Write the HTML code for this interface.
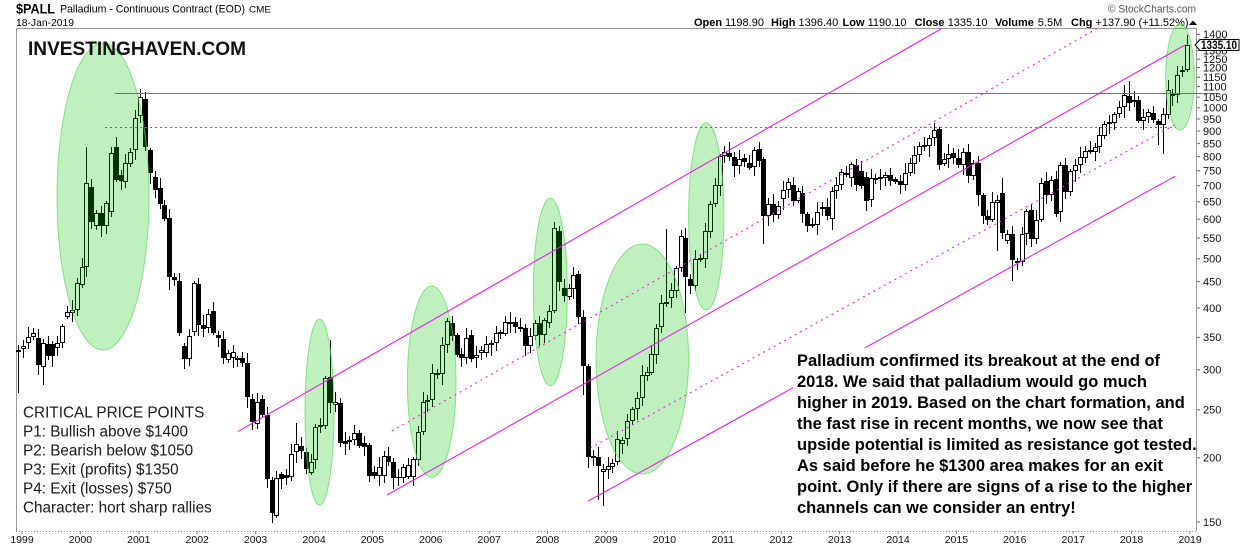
<!DOCTYPE html>
<html><head><meta charset="utf-8"><style>
html,body{margin:0;padding:0;background:#fff;}
svg{display:block;font-family:"Liberation Sans",Arial,sans-serif;}
</style></head><body>
<svg id="c" width="1240" height="546" viewBox="0 0 1240 546" xmlns="http://www.w3.org/2000/svg">
<rect width="1240" height="546" fill="#fff"/>
<!-- header -->
<text x="16" y="13.5" font-size="14" font-weight="bold" textLength="39" lengthAdjust="spacingAndGlyphs">$PALL</text>
<text x="60" y="12.7" font-size="11" textLength="185" lengthAdjust="spacingAndGlyphs">Palladium - Continuous Contract (EOD)</text>
<text x="249" y="12.7" font-size="9" textLength="22" lengthAdjust="spacingAndGlyphs">CME</text>
<text x="16" y="26" font-size="10" textLength="58" lengthAdjust="spacingAndGlyphs">18-Jan-2019</text>
<text x="1108" y="12.5" font-size="11" fill="#555" textLength="88" lengthAdjust="spacingAndGlyphs">© StockCharts.com</text>
<g font-size="11">
<text x="694" y="26" font-weight="bold">Open</text><text x="725" y="26">1198.90</text>
<text x="771" y="26" font-weight="bold">High</text><text x="798.5" y="26">1396.40</text>
<text x="842.5" y="26" font-weight="bold">Low</text><text x="867.6" y="26">1190.10</text>
<text x="914.6" y="26" font-weight="bold">Close</text><text x="947.7" y="26">1335.10</text>
<text x="995" y="26" font-weight="bold">Volume</text><text x="1037.8" y="26">5.5M</text>
<text x="1071" y="26" font-weight="bold">Chg</text><text x="1095.5" y="26" textLength="93" lengthAdjust="spacingAndGlyphs">+137.90 (+11.52%)</text>
</g>
<polygon points="1189,25 1197,25 1193,20.5" fill="#000"/>

<!-- plot frame -->
<line x1="16" y1="28.5" x2="1197" y2="28.5" stroke="#999" stroke-width="1"/>
<line x1="16.5" y1="28" x2="16.5" y2="531" stroke="#999" stroke-width="1"/>
<line x1="1196.5" y1="28" x2="1196.5" y2="531" stroke="#999" stroke-width="1"/>
<line x1="16" y1="531.5" x2="1197" y2="531.5" stroke="#888" stroke-width="1" stroke-dasharray="1,2"/>

<g id="candles" stroke="#000" stroke-width="1" shape-rendering="crispEdges"></g>

<!-- ellipses -->
<g fill="#00c800" fill-opacity="0.25" stroke="#5fd65f" stroke-opacity="0.7" stroke-width="1">
<ellipse cx="103" cy="196.5" rx="46" ry="153.5"/>
<ellipse cx="319.5" cy="412" rx="14.5" ry="93"/>
<ellipse cx="431.7" cy="381.7" rx="24.3" ry="95.7"/>
<ellipse cx="550.3" cy="292" rx="17" ry="93.7"/>
<ellipse cx="642.3" cy="359" rx="46.3" ry="115"/>
<ellipse cx="706.3" cy="216.3" rx="17.7" ry="93.7"/>
<ellipse cx="1180" cy="77" rx="14.3" ry="53"/>
</g>

<!-- lines -->
<g stroke="#e61ee6" stroke-width="1.1" fill="none">
<line x1="115" y1="93.5" x2="1218" y2="93.5"/>
<line x1="105" y1="127.5" x2="1176" y2="127.5" stroke-dasharray="2,3"/>
<line x1="237.7" y1="431.7" x2="941.7" y2="28.5"/>
<line x1="387" y1="495" x2="1185" y2="45"/>
<line x1="588.3" y1="501" x2="1175" y2="176.3"/>
<line x1="392" y1="431" x2="1097" y2="28.5" stroke-dasharray="2,4"/>
<line x1="590" y1="448.3" x2="1175" y2="124.7" stroke-dasharray="2,4"/>
</g>

<!-- y axis -->
<g id="yaxis" font-size="11" fill="#111"></g>

<!-- price label -->
<polygon points="1195,45 1200,39.5 1239,39.5 1239,50.5 1200,50.5" fill="#fff" stroke="#000" stroke-width="1"/>
<text x="1201" y="49" font-size="11.5" font-weight="bold" textLength="36" lengthAdjust="spacingAndGlyphs">1335.10</text>

<!-- x axis -->
<g id="xaxis" font-size="10.5" fill="#111" text-anchor="middle"></g>

<!-- watermark -->
<text x="28" y="55" font-size="19" font-weight="bold" fill="#111" textLength="218" lengthAdjust="spacingAndGlyphs">INVESTINGHAVEN.COM</text>

<!-- left text -->
<g font-size="15.3" fill="#1a1a1a">
<text x="23" y="417.3">CRITICAL PRICE POINTS</text>
<text x="23" y="436.3">P1: Bullish above $1400</text>
<text x="23" y="455.3">P2: Bearish below $1050</text>
<text x="23" y="474.3">P3: Exit (profits) $1350</text>
<text x="23" y="493.3">P4: Exit (losses) $750</text>
<text x="23" y="512.3">Character: hort sharp rallies</text>
</g>

<!-- right text -->
<rect x="793" y="348" width="373" height="172" fill="#fff"/>
<g font-size="16.5" font-weight="bold" fill="#000">
<text x="797" y="366">Palladium confirmed its breakout at the end of</text>
<text x="797" y="387">2018. We said that palladium would go much</text>
<text x="797" y="408">higher in 2019. Based on the chart formation, and</text>
<text x="797" y="429">the fast rise in recent months, we now see that</text>
<text x="797" y="450">upside potential is limited as resistance got tested.</text>
<text x="797" y="471">As said before he $1300 area makes for an exit</text>
<text x="797" y="492">point. Only if there are signs of a rise to the higher</text>
<text x="797" y="513">channels can we consider an entry!</text>
</g>
</svg>
<script>
(function(){
var D=[
[350,352,0],[346,349,0],[337,343,0],[333,337,0],[338,365,1],[343,367,0],[344,356,1],[344,356,1],[343,348,0],[326,343,0],
[312,317,0],[310,313,0],[283,310,0],[267,285,0],[183,267,0],[187,222,1],[213,226,0],[213,226,1],[203,226,0],[153,212,0],
[147,180,1],[175,181,1],[163,182,0],[152,164,0],[118,150,0],[97,116,0],[99,147,1],[150,173,1],[177,190,1],[188,204,1],
[205,219,1],[218,277,1],[277,280,1],[281,333,1],[346,359,1],[336,359,0],[283,332,0],[284,325,1],[325,329,1],[314,328,0],
[311,333,1],[335,338,1],[339,358,1],[353,360,0],[352,358,0],[358,360,1],[358,363,1],[363,397,1],[399,422,1],[402,424,0],
[399,415,1],[415,479,1],[480,513,1],[478,516,0],[474,479,1],[475,478,1],[454,477,0],[444,452,0],[446,451,1],[452,469,1],
[462,473,0],[427,460,0],[425,427,0],[378,426,0],[377,403,1],[402,405,0],[403,443,1],[441,444,1],[440,442,0],[433,440,0],
[433,446,1],[443,447,1],[445,476,1],[472,476,1],[467,476,0],[456,476,0],[456,462,1],[462,478,1],[477,478,1],[467,478,0],
[465,477,0],[459,477,0],[432,460,0],[402,432,0],[400,402,1],[373,400,0],[373,375,1],[345,374,0],[321,345,0],[323,336,1],
[335,355,1],[354,358,1],[338,358,0],[335,359,1],[355,358,0],[350,353,0],[344,353,0],[343,345,0],[333,343,0],[332,334,0],
[322,334,0],[322,324,0],[322,327,1],[327,329,1],[328,346,1],[336,346,0],[323,336,0],[323,335,1],[320,335,0],[311,323,0],
[228,311,0],[231,282,1],[288,296,1],[288,297,0],[275,289,0],[274,317,1],[317,366,1],[366,457,1],[456,458,1],[457,466,1],
[469,472,0],[466,470,0],[463,467,0],[439,462,0],[440,444,0],[421,439,0],[409,421,0],[398,409,0],[375,398,0],[372,376,0],
[354,373,0],[328,355,0],[303,327,0],[302,304,1],[290,298,0],[268,291,0],[236,268,0],[238,277,1],[279,286,1],[259,286,0],
[258,260,0],[231,259,0],[204,232,0],[185,204,0],[156,186,0],[152,156,0],[153,157,1],[157,166,1],[159,166,0],[158,162,1],
[163,168,1],[150,167,0],[149,161,1],[159,216,1],[204,216,0],[204,215,1],[206,215,0],[190,199,0],[182,190,0],[185,201,1],
[191,201,0],[193,214,1],[214,226,1],[224,225,0],[212,225,0],[207,209,0],[207,216,1],[191,219,0],[185,191,0],[172,185,0],
[173,175,1],[164,178,0],[165,185,1],[171,186,1],[177,201,1],[178,200,0],[178,180,1],[177,179,0],[175,178,0],[175,181,1],
[179,182,1],[181,185,1],[173,185,0],[163,173,0],[155,164,0],[146,155,0],[145,147,0],[138,146,0],[130,138,0],[129,165,1],
[159,164,0],[154,159,0],[153,158,1],[158,165,1],[152,165,0],[152,176,1],[163,176,0],[163,195,1],[195,216,1],[216,220,1],
[202,220,0],[200,203,0],[193,233,1],[234,241,0],[234,260,1],[261,263,0],[234,262,0],[211,234,0],[210,239,1],[220,239,0],
[183,220,0],[181,195,1],[180,195,0],[179,214,1],[165,212,0],[165,192,1],[171,192,0],[165,171,0],[157,165,0],[151,158,0],
[150,152,1],[147,152,0],[135,147,0],[124,136,0],[122,124,0],[114,123,0],[107,114,0],[95,107,0],[96,103,1],[100,102,0],
[100,121,1],[117,121,0],[112,117,0],[113,120,1],[121,125,1],[114,125,0],[90,115,0],[94,95,0],[75,95,0],[70,72,0],
[45,70,0]];
var H={0:345,14:147,25:89,26:92,57:423,64:340,110:222,133:229,146:142,202:178,228:81,240:35};
var L={0:393,5:385,31:290,52:523,53:518,116:395,119:500,120:506,137:313,153:244,201:251,204:281,234:145,235:154};
var s='';
for(var i=0;i<D.length;i++){
  var d=D[i],t=d[0],b=d[1],f=d[2];
  var ci=Math.round(18.3+i*4.87), cx=ci+0.5;
  var hi=(H[i]!==undefined)?H[i]:t-(2+((i*13)%9));
  var lo=(L[i]!==undefined)?L[i]:b+(2+((i*17)%10));
  s+='<line x1="'+cx+'" y1="'+hi+'" x2="'+cx+'" y2="'+lo+'"/>';
  var h=Math.max(b-t,1);
  if(f){s+='<rect x="'+(ci-2)+'" y="'+t+'" width="5" height="'+h+'" fill="#000" stroke="none"/>';}
  else{s+='<rect x="'+(ci-1.5)+'" y="'+(t+0.5)+'" width="4" height="'+Math.max(h-1,1)+'" fill="#fff" stroke="#000"/>';}
}
document.getElementById('candles').innerHTML=s;
var Y=[[1400,34.4],[1350,42.3],[1300,50.6],[1250,59.1],[1200,67.5],[1150,77.3],[1100,86.5],[1050,97.1],[1000,107.8],[950,119],[900,131],[850,143.6],[800,156.6],[750,170.7],[700,185.7],[650,201.8],[600,219.2],[550,238],[500,258.8],[450,281.6],[400,308],[350,337.4],[300,369.8],[250,409.8],[200,457.8],[150,522]];
var a='';
for(var j=0;j<Y.length;j++){
  a+='<line x1="1197" y1="'+Y[j][1]+'" x2="1200" y2="'+Y[j][1]+'" stroke="#666" stroke-width="1"/>';
  a+='<text x="1203" y="'+(Y[j][1]+3.8)+'">'+Y[j][0]+'</text>';
}
document.getElementById('yaxis').innerHTML=a;
var xa='';
for(var yr=1999;yr<=2019;yr++){
  var x=22+58.4*(yr-1999);
  xa+='<line x1="'+x+'" y1="531" x2="'+x+'" y2="534" stroke="#888" stroke-width="1"/>';
  xa+='<text x="'+x+'" y="543">'+yr+'</text>';
}
document.getElementById('xaxis').innerHTML=xa;
})();
</script>
</body></html>
